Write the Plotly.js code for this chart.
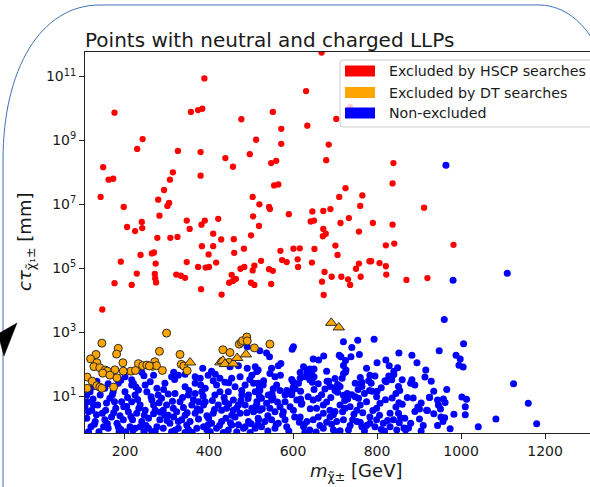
<!DOCTYPE html>
<html>
<head>
<meta charset="utf-8">
<script src="https://cdn.plot.ly/plotly-3.0.1.min.js"></script>
<style>
  html, body { margin: 0; padding: 0; overflow: hidden; background: #fff; }
  #chart { width: 620px; height: 487px; }
</style>
</head>
<body>
<div id="chart"></div>
<script>
// Points excluded by heavy stable charged particle (HSCP) searches
const hscpMass = [
  389, 175, 357, 374, 384, 477, 242, 229, 326, 380, 512, 497, 439, 457, 148, 161, 172, 314, 307, 380,
  293, 142, 279, 504, 668, 631, 552, 572, 634, 703, 736, 572, 685, 548, 560, 679, 839, 555, 565, 837,
  725, 710, 765, 912, 982, 920, 197, 305, 301, 282, 240, 205, 224, 241, 277, 308, 325, 347, 354, 382,
  390, 422, 410, 429, 459, 500, 505, 383, 410, 399, 460, 483, 190, 237, 264, 269, 273, 347, 374, 392,
  400, 417, 475, 484, 508, 504, 228, 271, 272, 274, 322, 333, 343, 454, 464, 457, 448, 500, 508, 175,
  216, 381, 430, 146, 520, 519, 543, 545, 590, 646, 672, 689, 760, 642, 650, 713, 733, 790, 837, 672,
  678, 671, 757, 570, 601, 616, 651, 701, 706, 821, 841, 524, 574, 585, 611, 645, 612, 543, 552, 548,
  675, 669, 692, 715, 731, 736, 673, 750, 757, 761, 782, 786, 806, 821, 822, 870
];
const hscpCtau = [
  8.7e10, 7.4e9, 7.8e9, 8.9e9, 9.8e9, 4.6e9, 1.1e9, 5.4e8, 4.7e8, 4.3e8, 1.05e9, 3.7e8, 2.8e8, 1.5e8, 1.45e8, 5.9e7, 6.3e7, 1.0e8, 5.9e7, 7.9e7,
  2.8e7, 1.7e7, 1.4e7, 1.7e7, 5.6e11, 3.5e10, 7.8e9, 2.3e9, 2.9e9, 4.7e9, 1.1e10, 7.8e8, 7.4e8, 1.95e8, 2.3e8, 2.4e8, 1.95e8, 3.9e7, 4.2e7, 4.5e7,
  3.2e7, 1.7e7, 1.9e7, 7.8e6, 5.4e5, 4.9e4, 8.3e6, 1.1e7, 8.9e6, 4.4e6, 2.8e6, 1.95e6, 1.45e6, 1.8e6, 8.9e5, 8.9e5, 9.5e5, 3.1e6, 1.7e6, 2.3e6,
  3.1e6, 3.5e6, 1.2e6, 7.9e5, 8.1e5, 1.07e6, 4.2e6, 4.9e5, 4.9e5, 2.7e5, 3.0e5, 4.1e5, 1.6e5, 2.6e5, 2.9e5, 3.1e5, 1.4e5, 1.55e5, 1.1e5, 1.05e5,
  1.1e5, 1.5e5, 9.6e4, 1.1e5, 1.2e5, 8.5e4, 6.8e4, 6.6e4, 4.8e4, 3.6e4, 6.3e4, 5.8e4, 5.0e4, 6.2e4, 4.6e4, 4.0e4, 3.5e4, 3.5e4, 3.0e4, 3.4e4,
  3.0e4, 2.2e4, 1.5e4, 5.1e3, 1.0e7, 2.1e6, 8.3e6, 7.1e6, 4.9e6, 6.0e6, 6.2e6, 7.1e6, 8.9e6, 2.9e6, 3.1e6, 2.6e6, 3.7e6, 2.6e6, 2.3e6, 1.7e6,
  1.2e6, 1.0e6, 1.4e6, 3.5e5, 4.1e5, 4.2e5, 4.0e5, 5.1e5, 2.6e5, 5.2e5, 5.9e5, 1.7e5, 1.8e5, 1.55e5, 1.9e5, 1.5e5, 1.1e5, 9.3e4, 8.3e4, 3.2e4,
  7.6e4, 3.8e4, 5.4e4, 5.4e4, 4.5e4, 3.0e4, 1.45e4, 9.6e4, 1.4e5, 5.4e4, 1.65e5, 1.65e5, 1.45e5, 1.15e5, 6.3e4, 4.3e4
];

// Points excluded by disappearing track (DT) searches: circles and triangles
const dtMass = [
  299, 145, 184, 180, 131, 118, 133, 126, 140, 282, 331, 334, 340, 348, 271, 266, 275, 232, 242, 252,
  258, 195, 289, 214, 225, 196, 176, 153, 158, 147, 164, 181, 110, 122, 133, 140, 145, 173, 110, 433,
  450, 472, 477, 480, 490, 491, 508, 448, 545
];
const dtCtau = [
  930, 450, 310, 205, 200, 145, 110, 83, 77, 250, 200, 98, 87, 62, 118, 85, 89, 103, 89, 93,
  87, 110, 63, 60, 63, 60, 66, 65, 60, 52, 45, 37, 39, 29, 21, 19, 17.4, 19, 17.4, 280,
  230, 420, 480, 540, 700, 530, 320, 113, 420
];
const dtTriMass = [355, 427, 433, 438, 458, 467, 488, 691, 709];
const dtTriCtau = [112, 113, 127, 100, 103, 155, 200, 1950, 1400];

// Points not excluded by either search
const openMass = [
  964, 981, 1110, 960,
  1006, 948, 988, 998, 995, 1005, 916, 914, 929, 1125, 966, 925, 944, 958, 962, 946,
  951, 1002, 1013, 1010, 1160, 920, 983, 1010, 952, 961, 957, 1083, 944, 974, 1041, 1180,
  883, 895, 852, 829, 849, 840, 821, 819, 822, 835, 851, 854, 836, 852, 851, 856, 853, 875, 868, 864,
  886, 897, 901, 901, 918, 925, 883,
  793, 754, 720, 740, 758, 738, 710, 714, 673, 648, 661, 726, 725, 775, 783, 795, 828, 717, 762, 764,
  786, 782, 706, 712, 700, 706, 729, 740, 720, 681, 688, 676, 640, 650, 640, 646, 625, 633, 617, 597,
  613, 605, 597, 597, 609, 621, 593, 601, 636, 648, 660, 672, 656, 672, 688, 696, 712, 724, 736, 752,
  760, 756, 775, 799, 807, 799, 783, 799, 775, 795, 815, 831, 839, 831, 847, 688, 704, 720, 736, 752,
  764, 617, 633, 648, 664, 625, 640, 672, 696, 712, 732,
  521, 537, 544, 601, 598, 510, 517, 549, 545, 557, 571, 565, 517, 529, 521, 561, 569, 553, 585, 581,
  541, 525, 549, 537, 514, 521, 545, 557, 569, 581, 517, 533, 549, 565, 581, 525, 557, 585,
  725, 629, 634, 650, 644, 617, 685, 748, 764, 890,
  491, 385, 406, 398, 450, 470, 491, 502, 514, 245, 311, 327, 343, 367, 379, 426, 454, 474, 200, 216, 220,
  109, 117, 111, 121, 109, 119, 113, 141, 135, 146, 129, 149, 138, 164, 178, 168, 181, 160, 186,
  200, 192, 208, 196, 212, 202, 224, 236, 228, 240, 224, 245, 252, 264, 272, 256, 276, 264,
  287, 299, 295, 307, 291, 311, 319, 331, 323, 335, 327, 343, 351, 359, 367, 355, 371, 360,
  383, 391, 379, 399, 387, 403, 414, 422, 410, 430, 418, 434, 446, 458, 442, 462, 454, 466,
  478, 486, 474, 494, 482, 498, 510, 514, 506, 518, 510,
  248, 276, 295, 343, 367, 391, 418, 438, 462, 486, 506, 216, 152, 184, 125,
  125, 154, 175, 216, 218, 248, 283, 315, 343, 375, 406, 430, 454, 470, 502, 152, 184, 256, 303, 347,
  395, 446, 486, 172, 232, 279, 367, 426, 494, 113, 204, 268, 387, 438, 291, 236, 458, 327,
  560, 590, 615, 655, 680, 700, 745, 770, 790, 810, 825, 860, 880, 905, 935, 540, 575, 628, 705, 760,
  620, 690, 730, 770, 800, 550, 600, 650, 700, 760, 810, 845, 880, 530, 570, 640, 680, 720, 800,
  105, 124, 127, 132, 156, 158, 170, 173, 188, 190, 197, 206, 214, 219, 230, 233, 246, 250, 262, 268,
  272, 281, 284, 300, 303, 313, 316, 319, 337, 339, 348, 351, 363, 372, 375, 386, 395, 398, 408, 413,
  425, 436, 440, 447, 451, 466, 470, 476, 490, 493, 500, 512, 516, 520,
  133, 160, 190, 226, 260, 292, 318, 352, 380, 410, 447, 478, 497, 268, 316, 240, 415,
  527, 540, 552, 563, 577, 590, 604, 618, 627, 641, 660, 668, 680, 692, 718, 723, 742, 748, 766, 783,
  788, 806, 820, 818, 845, 866, 872, 890, 905, 910, 935, 600, 660, 720, 780, 840, 520, 618, 700, 755, 860
];
const openCtau = [
  1.66e8, 4.2e4, 6.9e4, 2.5e3,
  430, 260, 190, 145, 91, 81, 65, 39, 29, 24, 16, 9.1, 7.5, 8.1, 6.3, 5.2,
  3.9, 9.3, 7.9, 4.6, 5.9, 3.5, 2.7, 2.6, 2.2, 2.1, 1.6, 1.9, 1.2, 0.95, 1.1, 1.35,
  190, 110, 220, 89, 76, 47, 134, 30, 28, 32, 20, 15, 8.7, 6.2, 2.9, 2.1, 1.46, 1.0, 0.87, 1.0,
  8.7, 4.5, 3.9, 1.9, 3.6, 8.9, 32,
  600, 560, 500, 330, 200, 170, 190, 170, 180, 145, 135, 65, 56, 74, 45, 42, 42, 36, 24, 20,
  25, 15, 23, 20, 15, 13, 12, 11, 10.5, 29, 20, 16.5, 51, 40, 32, 27, 83, 65, 54, 33,
  25, 17, 12.7, 11, 7.5, 5.9, 4.6, 3.6, 9.5, 7.5, 8.5, 5.2, 4.1, 2.9, 3.6, 2.6, 5.2, 4.1, 4.6, 3.6,
  5.2, 8.5, 6.6, 9.5, 5.9, 4.1, 2.2, 1.8, 1.2, 1.1, 1.4, 2.9, 1.8, 1.1, 0.87, 2.2, 1.6, 1.8, 1.2, 1.6,
  1.1, 2.2, 1.6, 1.8, 1.2, 1.1, 0.87, 0.98, 0.87, 0.82, 0.87,
  260, 220, 170, 350, 290, 83, 65, 74, 51, 40, 105, 89, 25, 22, 15, 22, 15, 17, 15, 10.7,
  10.7, 8.5, 7.5, 5.9, 5.2, 3.6, 4.1, 3.2, 4.6, 6.6, 2.0, 1.6, 1.8, 1.4, 1.8, 1.1, 0.98, 1.1,
  130, 40, 54, 70, 51, 36, 29, 25, 27, 22,
  350, 74, 60, 45, 83, 89, 74, 45, 58, 43, 40, 45, 48, 40, 36, 36, 36, 40, 40, 32, 25,
  10.7, 13.6, 6.6, 3.6, 2.0, 1.1, 0.76, 10.7, 5.2, 2.9, 1.6, 1.1, 0.76, 8.5, 4.1, 2.2, 1.4, 0.98, 0.76,
  13.6, 6.6, 3.2, 1.8, 1.1, 0.76, 10.7, 5.2, 2.9, 1.6, 0.98, 0.76, 13.6, 7.5, 3.6, 2.0, 1.1, 0.76,
  8.5, 5.2, 2.5, 1.4, 0.98, 0.76, 12, 6.6, 3.2, 1.8, 0.98, 0.72, 10.7, 5.2, 2.9, 1.6, 0.98, 0.72,
  13.6, 6.6, 3.6, 2.0, 1.1, 0.76, 10.7, 5.2, 2.9, 1.6, 0.98, 0.72, 13.6, 7.5, 4.1, 2.2, 1.23, 0.76,
  10.7, 5.2, 2.9, 1.6, 0.98, 0.72, 13.6, 6.6, 3.2, 1.8, 0.98,
  22, 17.4, 25, 19.5, 25, 17.4, 22, 27, 19.5, 22, 25, 22, 17.4, 25, 19.5,
  5.2, 3.6, 6.6, 6.6, 1.8, 3.6, 1.8, 4.1, 2.5, 6.6, 1.4, 3.6, 2.5, 5.2, 4.1, 1.8, 1.1, 0.98, 2.5, 1.23,
  0.87, 0.87, 1.1, 13.6, 15.5, 10.7, 12, 13.6, 10.7, 3.2, 4.7, 5.2, 5.2, 6.6, 3.6, 1.1, 3.6, 1.6,
  1.3, 0.8, 1.5, 0.75, 1.5, 3.3, 2.7, 0.8, 3.5, 0.9, 1.7, 5.5, 1.4, 0.8, 2.8, 0.8, 2.6, 0.72, 0.75, 1.5,
  5.5, 9, 8, 12, 14, 12, 18, 16, 35, 38, 18, 12, 25, 30, 45, 70, 60, 90, 110,
  4.5, 8.0, 1.3, 2.6, 6.0, 1.35, 11, 3.0, 2.4, 0.9, 4.6, 9.0, 2.3, 0.85, 7.8, 4.1, 2.5, 1.2, 9.5, 2.8,
  0.8, 6.2, 3.1, 1.7, 11.5, 6.8, 2.2, 0.85, 8.9, 4.4, 3.0, 0.9, 7.6, 4.0, 1.9, 9.8, 2.4, 1.25, 7.2, 3.8,
  1.2, 9.0, 2.0, 5.6, 1.45, 4.2, 1.25, 7.2, 3.0, 8.3, 1.35, 4.8, 1.25, 9.8,
  29, 24, 31, 19, 28, 16, 33, 15, 22, 30, 26, 15, 33, 45, 55, 55, 48,
  4.0, 2.4, 9.0, 6.5, 3.2, 12, 2.2, 8.0, 1.3, 4.0, 2.2, 11, 6.5, 1.3, 3.2, 7.2, 1.8, 9.5, 3.0, 1.4,
  14, 2.5, 7.6, 0.8, 4.5, 2.0, 9.0, 3.3, 6.0, 1.2, 14, 28, 24, 50, 30, 60, 18, 14, 18, 16, 32
];

const legendLabels = ['Excluded by HSCP searches', 'Excluded by DT searches', 'Non-excluded'];
const legendColors = ['#ff0000', '#ffa500', '#0000ff'];

const yTickVals = [1e1, 1e3, 1e5, 1e7, 1e9, 1e11];
const yTickText = ['10<sup>1</sup>', '10<sup>3</sup>', '10<sup>5</sup>', '10<sup>7</sup>', '10<sup>9</sup>', '10<sup>11</sup>'];
const xTickVals = [200, 400, 600, 800, 1000, 1200];

// plot area geometry (pixels) used to place the hand-drawn legend and decorations
const L = 85, T = 52, W = 513, H = 381;
const px = p => (p - L) / W;
const py = p => 1 - (p - T) / H;
const pt = (x, y) => px(x).toFixed(4) + ',' + py(y).toFixed(4);

const FONT = 'DejaVu Sans, Liberation Sans, sans-serif';
const INK = '#1a1a1a';

const traces = [
  {
    x: openMass, y: openCtau, type: 'scatter', mode: 'markers', showlegend: false,
    marker: { color: legendColors[2], size: 7 }, cliponaxis: true, hoverinfo: 'skip'
  },
  {
    x: hscpMass, y: hscpCtau, type: 'scatter', mode: 'markers', showlegend: false,
    marker: { color: legendColors[0], size: 6.3 }, cliponaxis: true, hoverinfo: 'skip'
  },
  {
    x: dtMass, y: dtCtau, type: 'scatter', mode: 'markers', showlegend: false,
    marker: { color: legendColors[1], size: 8, line: { color: '#2a2a2a', width: 1 } },
    cliponaxis: true, hoverinfo: 'skip'
  },
  {
    x: dtTriMass, y: dtTriCtau, type: 'scatter', mode: 'markers', showlegend: false,
    marker: { color: legendColors[1], size: 10, symbol: 'triangle-up', line: { color: '#2a2a2a', width: 1 } },
    cliponaxis: true, hoverinfo: 'skip'
  }
];

// legend box with rounded corners
function roundRect(x0, y0, x1, y1, r) {
  return 'M' + pt(x0 + r, y0) + ' L' + pt(x1 - r, y0) + ' Q' + pt(x1, y0) + ' ' + pt(x1, y0 + r) +
    ' L' + pt(x1, y1 - r) + ' Q' + pt(x1, y1) + ' ' + pt(x1 - r, y1) +
    ' L' + pt(x0 + r, y1) + ' Q' + pt(x0, y1) + ' ' + pt(x0, y1 - r) +
    ' L' + pt(x0, y0 + r) + ' Q' + pt(x0, y0) + ' ' + pt(x0 + r, y0) + ' Z';
}

const shapes = [
  {
    type: 'path', xref: 'paper', yref: 'paper', layer: 'above',
    path: roundRect(340, 60, 593, 127, 3),
    fillcolor: 'rgba(255,255,255,0.8)', line: { color: '#cccccc', width: 1 }
  }
];
const annotations = [];
const rowY = [71, 92.5, 113];
legendLabels.forEach((lab, i) => {
  shapes.push({
    type: 'rect', xref: 'paper', yref: 'paper', layer: 'above',
    x0: px(345), x1: px(375), y0: py(rowY[i] - 5.5), y1: py(rowY[i] + 5.5),
    fillcolor: legendColors[i], line: { width: 0 }
  });
  annotations.push({
    xref: 'paper', yref: 'paper', x: px(386.5), y: py(rowY[i]), xanchor: 'left', yanchor: 'middle',
    text: lab, showarrow: false, font: { family: FONT, size: 14.2, color: INK }
  });
});

// surrounding frame outline and pointer mark
shapes.push({
  type: 'path', xref: 'paper', yref: 'paper', layer: 'above',
  path: 'M' + pt(3, 490) + ' L' + pt(3, 160) + ' C' + pt(3, 70) + ' ' + pt(40, 5) + ' ' + pt(100, 5) +
        ' L' + pt(540, 5) + ' C' + pt(565, 6) + ' ' + pt(583, 22) + ' ' + pt(596, 45),
  line: { color: '#4170b8', width: 1 }
});
shapes.push({
  type: 'path', xref: 'paper', yref: 'paper', layer: 'above',
  path: 'M' + pt(17, 323) + ' L' + pt(-2, 334) + ' L' + pt(4, 356) + ' Z',
  fillcolor: '#000000', line: { color: '#000000', width: 0.5 }
});

// axis titles
annotations.push({
  xref: 'paper', yref: 'paper', x: px(356), y: py(472), xanchor: 'center', yanchor: 'middle',
  text: '<i>m</i><sub>χ̃±</sub> [GeV]', showarrow: false,
  font: { family: FONT, size: 18, color: INK }
});
annotations.push({
  xref: 'paper', yref: 'paper', x: px(26), y: py(242), xanchor: 'center', yanchor: 'middle',
  text: '<i>cτ</i><sub>χ̃₁±</sub> [mm]', textangle: -90, showarrow: false,
  font: { family: FONT, size: 18, color: INK }
});

const axisCommon = {
  showline: true, linecolor: '#222', linewidth: 1, mirror: true,
  ticks: 'outside', ticklen: 5, tickwidth: 1, tickcolor: '#222',
  tickfont: { family: FONT, size: 14, color: INK },
  showgrid: false, zeroline: false
};

const layout = {
  width: 620, height: 487,
  margin: { l: L, r: 620 - L - W, t: T, b: 487 - T - H },
  paper_bgcolor: '#ffffff', plot_bgcolor: '#ffffff',
  title: {
    text: 'Points with neutral and charged LLPs',
    font: { family: FONT, size: 20, color: INK },
    x: 0, xref: 'paper', xanchor: 'left',
    y: 1, yref: 'paper', yanchor: 'bottom', pad: { b: 5 }
  },
  xaxis: Object.assign({}, axisCommon, {
    range: [104.8, 1326], tickmode: 'array', tickvals: xTickVals
  }),
  yaxis: Object.assign({}, axisCommon, {
    type: 'log', range: [-0.158, 11.767], tickmode: 'array', tickvals: yTickVals, ticktext: yTickText
  }),
  shapes: shapes,
  annotations: annotations,
  showlegend: false
};

Plotly.newPlot('chart', traces, layout, { displayModeBar: false, staticPlot: true });
</script>
</body>
</html>
